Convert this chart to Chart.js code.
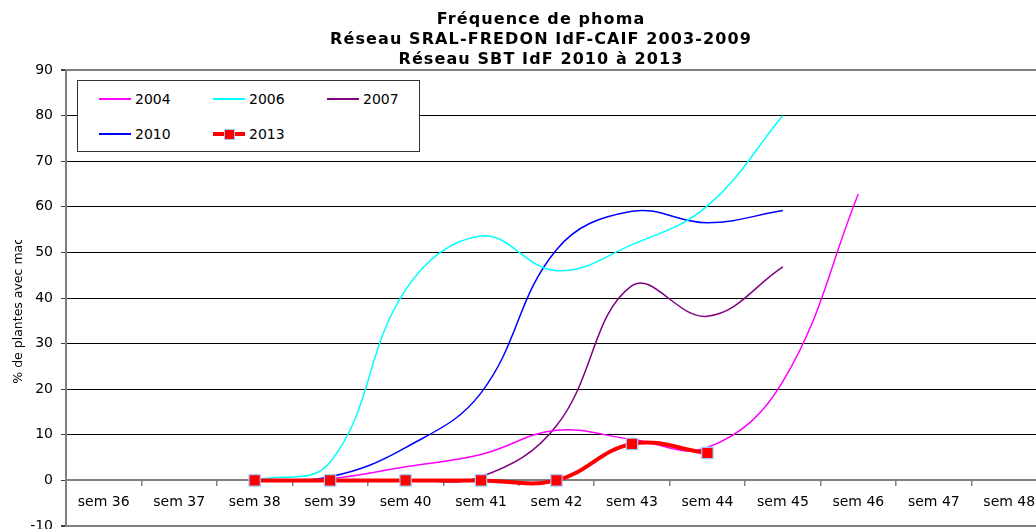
<!DOCTYPE html>
<html>
<head>
<meta charset="utf-8">
<script src="https://cdn.jsdelivr.net/npm/chart.js"></script>
<style>
  body { margin: 0; overflow: hidden; background: #fff; }
  #wrap { position: relative; width: 1082px; height: 545px; }
  #titre {
    position: absolute; left: 0; top: 9px; width: 1082px; text-align: center;
    font: bold 16px/20px "DejaVu Sans", Verdana, sans-serif; letter-spacing: 1.1px; color: #000;
  }
  #legend {
    position: absolute; left: 77px; top: 80px; width: 341px; height: 70px;
    border: 1px solid #333; background: #fff;
    font: 14px "DejaVu Sans", sans-serif; color: #000;
  }
  .item { position: absolute; height: 20px; display: flex; align-items: center; }
  .sw { position: relative; width: 32px; height: 20px; margin-right: 4px; }
  .sw .ln { position: absolute; left: 0; right: 0; top: 50%; }
  .sw .mk { position: absolute; left: 11px; top: 5px; width: 9px; height: 9px; border: 1px solid #99CCFF; }
</style>
</head>
<body>
<div id="wrap">
  <canvas id="chart" width="1082" height="545"></canvas>
  <div id="titre">Fréquence de phoma<br>Réseau SRAL-FREDON IdF-CAIF 2003-2009<br>Réseau SBT IdF 2010 à 2013</div>
  <div id="legend"></div>
</div>
<script>
// semaines (axe des x)
const semaines = ['sem 36', 'sem 37', 'sem 38', 'sem 39', 'sem 40', 'sem 41', 'sem 42',
                  'sem 43', 'sem 44', 'sem 45', 'sem 46', 'sem 47', 'sem 48'];

// % de plantes avec macules
const annees = ['2004', '2006', '2007', '2010', '2013'];
const v2004 = [null, null, 0, 0.4, 3, 5.7, 11, 9, 7.2, 21.7, 62.8, null, null];
const v2006 = [null, null, 0, 4, 41.8, 53.6, 46, 51.7, 60.2, 80, null, null, null];
const v2007 = [null, null, 0, 0, 0, 0.8, 12, 42.7, 36, 46.8, null, null, null];
const v2010 = [null, null, 0, 0.8, 7.2, 19.2, 50.6, 59, 56.5, 59.2, null, null, null];
const v2013 = [null, null, 0, 0, 0, 0, 0, 8, 6, null, null, null, null];

const valeurs = [v2004, v2006, v2007, v2010, v2013];
const couleurs = ['#FF00FF', '#00FFFF', '#800080', '#0000FF', '#FF0000'];

const police = '"DejaVu Sans", Verdana, sans-serif';

const datasets = annees.map((a, i) => {
  const gras = a === '2013';
  return {
    label: a,
    data: valeurs[i],
    borderColor: couleurs[i],
    backgroundColor: couleurs[i],
    borderWidth: gras ? 4 : 1.5,
    tension: 0.4,
    pointRadius: gras ? 8 : 0,
    pointHoverRadius: gras ? 8 : 0,
    pointStyle: 'rect',
    pointBackgroundColor: couleurs[i],
    pointBorderColor: '#99CCFF',
    pointBorderWidth: 1.2,
    order: gras ? 0 : 1
  };
});

// titre de l'axe vertical (coupé en haut comme sur l'original)
const titreY = {
  id: 'titreY',
  afterDraw(chart) {
    const ctx = chart.ctx, a = chart.chartArea;
    ctx.save();
    ctx.beginPath();
    ctx.rect(0, 240, 40, a.bottom - 240);
    ctx.clip();
    ctx.translate(19, (a.top + a.bottom) / 2);
    ctx.rotate(-Math.PI / 2);
    ctx.font = '12.5px ' + police;
    ctx.fillStyle = '#000';
    ctx.textAlign = 'center';
    ctx.textBaseline = 'middle';
    ctx.fillText('% de plantes avec macules', 0, 0);
    ctx.restore();
  }
};

const bord = v => v === -10 || v === 90;

new Chart(document.getElementById('chart'), {
  type: 'line',
  data: { labels: semaines, datasets: datasets },
  options: {
    responsive: false,
    animation: false,
    layout: { padding: { left: 0, right: 35, top: 70, bottom: 19 } },
    plugins: {
      legend: { display: false },
      tooltip: { enabled: false }
    },
    scales: {
      x: {
        position: { y: 0 },
        offset: true,
        afterFit: s => { s.height = 0; },
        grid: { drawOnChartArea: false, offset: true, tickLength: 5, color: '#808080', lineWidth: 1.5 },
        border: { color: '#808080', width: 2 },
        ticks: { color: '#000', font: { family: police, size: 14 }, padding: 9, maxRotation: 0, autoSkip: false }
      },
      y: {
        min: -10,
        max: 90,
        afterFit: s => { s.width = 66; },
        grid: {
          color: c => bord(c.tick.value) ? '#808080' : '#000',
          lineWidth: c => bord(c.tick.value) ? 2 : 1,
          tickLength: 5,
          tickColor: '#404040'
        },
        border: { color: '#808080', width: 2 },
        ticks: { stepSize: 10, color: '#000', font: { family: police, size: 14 }, padding: 8 }
      }
    }
  },
  plugins: [titreY]
});

// légende encadrée, à l'intérieur de la zone de tracé
const leg = document.getElementById('legend');
datasets.forEach((d, i) => {
  const col = i % 3, row = Math.floor(i / 3);
  const it = document.createElement('div');
  it.className = 'item';
  it.style.left = (21 + col * 114) + 'px';
  it.style.top = (8 + row * 35) + 'px';
  const sw = document.createElement('div');
  sw.className = 'sw';
  const ln = document.createElement('div');
  ln.className = 'ln';
  const h = d.label === '2013' ? 4 : 2;
  ln.style.height = h + 'px';
  ln.style.marginTop = (-h / 2) + 'px';
  ln.style.background = d.borderColor;
  sw.appendChild(ln);
  if (d.label === '2013') {
    const mk = document.createElement('div');
    mk.className = 'mk';
    mk.style.background = d.borderColor;
    sw.appendChild(mk);
  }
  const tx = document.createElement('span');
  tx.textContent = d.label;
  it.appendChild(sw);
  it.appendChild(tx);
  leg.appendChild(it);
});
</script>
</body>
</html>
